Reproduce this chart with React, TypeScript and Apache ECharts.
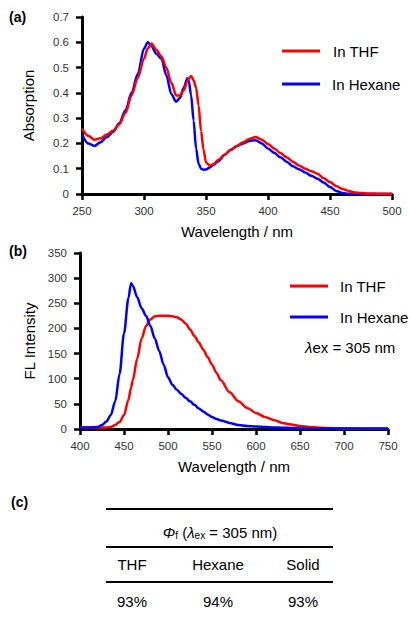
import React, { useEffect, useRef } from "react";
import * as echarts from "echarts";

// ---------- Data ----------
const absWl = [250, 255, 260, 265, 270, 275, 280, 285, 290, 295, 300, 303, 306, 310, 314, 318, 322, 326, 329, 332, 335, 336, 338, 340, 342, 344, 346, 348, 350, 353, 356, 360, 365, 370, 375, 380, 385, 390, 395, 400, 405, 410, 415, 420, 425, 430, 435, 440, 445, 450, 455, 460, 465, 470, 480, 490, 500];
const absTHF = [0.26, 0.23, 0.215, 0.22, 0.235, 0.25, 0.275, 0.32, 0.39, 0.46, 0.535, 0.575, 0.595, 0.57, 0.545, 0.5, 0.44, 0.39, 0.39, 0.41, 0.445, 0.455, 0.467, 0.45, 0.42, 0.35, 0.25, 0.175, 0.125, 0.112, 0.118, 0.135, 0.155, 0.175, 0.19, 0.205, 0.218, 0.225, 0.215, 0.198, 0.18, 0.162, 0.145, 0.128, 0.113, 0.1, 0.09, 0.08, 0.062, 0.047, 0.032, 0.02, 0.012, 0.006, 0.002, 0.001, 0.001];
const absHexane = [0.235, 0.2, 0.19, 0.205, 0.225, 0.245, 0.28, 0.33, 0.4, 0.475, 0.575, 0.6, 0.585, 0.555, 0.535, 0.47, 0.395, 0.365, 0.38, 0.42, 0.458, 0.45, 0.39, 0.29, 0.18, 0.12, 0.1, 0.096, 0.097, 0.105, 0.115, 0.13, 0.155, 0.175, 0.19, 0.2, 0.21, 0.213, 0.2, 0.18, 0.163, 0.145, 0.128, 0.11, 0.098, 0.085, 0.072, 0.06, 0.045, 0.028, 0.012, 0.004, 0.001, 0, 0, 0, 0];

const flWl = [400, 410, 420, 425, 430, 435, 440, 445, 450, 455, 458, 460, 465, 470, 475, 480, 485, 490, 495, 500, 505, 510, 515, 520, 525, 530, 535, 540, 545, 550, 555, 560, 570, 580, 590, 600, 610, 620, 630, 640, 650, 660, 680, 700, 720, 750];
const flTHF = [3, 3, 3, 3, 3, 4, 8, 14, 28, 58, 82, 97, 140, 180, 205, 218, 224, 225, 225, 225, 224, 222, 218, 210, 198, 185, 172, 158, 143, 128, 112, 97, 73, 55, 42, 32, 24, 18, 12, 9, 6, 4, 2, 1, 0.5, 0.5];
const flHexane = [3, 3, 4, 8, 15, 28, 55, 110, 190, 260, 290, 285, 262, 240, 225, 205, 180, 155, 128, 103, 88, 78, 70, 62, 55, 48, 41, 35, 29, 24, 20, 17, 12, 8, 6, 5, 4, 3, 2.5, 2, 2, 1.5, 1, 1, 1, 1];

const seriesNames = ["In THF", "In Hexane"];
const tableHeaders = ["THF", "Hexane", "Solid"];
const tableValues = ["93%", "94%", "93%"];

const RED = "#ff0000";
const BLUE = "#0000ff";
const FONT = "Liberation Sans, Arial, Helvetica, sans-serif";

const zip = (xs: number[], ys: number[]) => xs.map((x, i) => [x, ys[i]]);

export default function App() {
  const ref = useRef<HTMLDivElement>(null);
  useEffect(() => {
    if (!ref.current) return;
    const chart = echarts.init(ref.current, undefined, { renderer: "svg" });

    const axisCommon = {
      axisLine: { show: true, lineStyle: { color: "#000", width: 3 } },
      axisTick: { show: true, length: 6, lineStyle: { color: "#000", width: 2.5 } },
      splitLine: { show: false },
    };
    const tickLabel = { color: "#333", fontSize: 11.5, fontFamily: FONT };
    const nameStyle = { color: "#000", fontSize: 15, fontFamily: FONT };

    const colX = [132, 218, 303];

    const option: any = {
      animation: false,
      backgroundColor: "#fff",
      grid: [
        { left: 82, top: 17, right: 18, height: 177 },
        { left: 80, top: 253, right: 22, height: 176 },
      ],
      xAxis: [
        {
          gridIndex: 0, type: "value", min: 250, max: 500, interval: 50,
          ...axisCommon,
          axisLabel: { ...tickLabel, margin: 11 },
          name: "Wavelength / nm", nameLocation: "middle", nameGap: 30, nameTextStyle: nameStyle,
        },
        {
          gridIndex: 1, type: "value", min: 400, max: 750, interval: 50,
          ...axisCommon,
          axisLabel: { ...tickLabel, margin: 11 },
          name: "Wavelength / nm", nameLocation: "middle", nameGap: 30, nameTextStyle: nameStyle,
        },
      ],
      yAxis: [
        {
          gridIndex: 0, type: "value", min: 0, max: 0.7, interval: 0.1,
          ...axisCommon,
          axisLabel: { ...tickLabel, margin: 13 },
          name: "Absorption", nameLocation: "middle", nameGap: 46, nameTextStyle: nameStyle,
        },
        {
          gridIndex: 1, type: "value", min: 0, max: 350, interval: 50,
          ...axisCommon,
          axisLabel: { ...tickLabel, margin: 13 },
          name: "FL Intensity", nameLocation: "middle", nameGap: 43, nameTextStyle: nameStyle,
        },
      ],
      series: [
        {
          type: "line", name: seriesNames[1], xAxisIndex: 0, yAxisIndex: 0,
          data: zip(absWl, absHexane), showSymbol: false, smooth: 0.3, smoothMonotone: "x",
          lineStyle: { color: BLUE, width: 2.5 }, itemStyle: { color: BLUE },
        },
        {
          type: "line", name: seriesNames[0], xAxisIndex: 0, yAxisIndex: 0,
          data: zip(absWl, absTHF), showSymbol: false, smooth: 0.3, smoothMonotone: "x",
          lineStyle: { color: RED, width: 2.5 }, itemStyle: { color: RED },
        },
        {
          type: "line", name: seriesNames[0] + " FL", xAxisIndex: 1, yAxisIndex: 1,
          data: zip(flWl, flTHF), showSymbol: false, smooth: 0.3, smoothMonotone: "x",
          lineStyle: { color: RED, width: 2.5 }, itemStyle: { color: RED },
        },
        {
          type: "line", name: seriesNames[1] + " FL", xAxisIndex: 1, yAxisIndex: 1,
          data: zip(flWl, flHexane), showSymbol: false, smooth: 0.3, smoothMonotone: "x",
          lineStyle: { color: BLUE, width: 2.5 }, itemStyle: { color: BLUE },
        },
      ],
      graphic: [
        // panel labels
        { type: "text", left: 9, top: 10, style: { text: "(a)", font: `bold 14px ${FONT}`, fill: "#000" } },
        { type: "text", left: 9, top: 244, style: { text: "(b)", font: `bold 14px ${FONT}`, fill: "#000" } },
        { type: "text", left: 11, top: 495, style: { text: "(c)", font: `bold 14px ${FONT}`, fill: "#000" } },
        // legend (a)
        { type: "line", shape: { x1: 282, y1: 51, x2: 320, y2: 51 }, style: { stroke: RED, lineWidth: 3 } },
        { type: "text", x: 333, y: 51, style: { text: seriesNames[0], font: `15px ${FONT}`, fill: "#000", textVerticalAlign: "middle", verticalAlign: "middle" } },
        { type: "line", shape: { x1: 282, y1: 84, x2: 320, y2: 84 }, style: { stroke: BLUE, lineWidth: 3 } },
        { type: "text", x: 332, y: 84, style: { text: seriesNames[1], font: `15px ${FONT}`, fill: "#000", verticalAlign: "middle" } },
        // legend (b)
        { type: "line", shape: { x1: 290, y1: 286, x2: 328, y2: 286 }, style: { stroke: RED, lineWidth: 3 } },
        { type: "text", x: 340, y: 286, style: { text: seriesNames[0], font: `15px ${FONT}`, fill: "#000", verticalAlign: "middle" } },
        { type: "line", shape: { x1: 290, y1: 317, x2: 328, y2: 317 }, style: { stroke: BLUE, lineWidth: 3 } },
        { type: "text", x: 340, y: 317, style: { text: seriesNames[1], font: `15px ${FONT}`, fill: "#000", verticalAlign: "middle" } },
        {
          type: "text", x: 305, y: 347,
          style: {
            text: "{i|λ}{n|ex = 305 nm}",
            verticalAlign: "middle",
            rich: {
              i: { fontStyle: "italic", fontSize: 15, fontFamily: FONT, fill: "#000" },
              n: { fontSize: 15, fontFamily: FONT, fill: "#000" },
            },
          },
        },
        // table (c)
        { type: "line", shape: { x1: 106, y1: 509, x2: 333, y2: 509 }, style: { stroke: "#000", lineWidth: 2 } },
        { type: "line", shape: { x1: 106, y1: 547, x2: 333, y2: 547 }, style: { stroke: "#000", lineWidth: 2 } },
        { type: "line", shape: { x1: 106, y1: 582, x2: 333, y2: 582 }, style: { stroke: "#000", lineWidth: 2 } },
        {
          type: "text", x: 220, y: 531,
          style: {
            text: "{i|Φ}{s|f}{n| (}{i|λ}{s|ex}{n| = 305 nm)}",
            align: "center", verticalAlign: "middle",
            rich: {
              i: { fontStyle: "italic", fontSize: 15, fontFamily: FONT, fill: "#000", lineHeight: 18, verticalAlign: "bottom" },
              n: { fontSize: 15, fontFamily: FONT, fill: "#000", lineHeight: 18, verticalAlign: "bottom" },
              s: { fontSize: 10, fontFamily: FONT, fill: "#000", lineHeight: 14, verticalAlign: "bottom" },
            },
          },
        },
        ...tableHeaders.map((t, i) => ({
          type: "text", x: colX[i], y: 564,
          style: { text: t, font: `15px ${FONT}`, fill: "#000", align: "center", verticalAlign: "middle" },
        })),
        ...tableValues.map((t, i) => ({
          type: "text", x: colX[i], y: 601,
          style: { text: t, font: `15px ${FONT}`, fill: "#000", align: "center", verticalAlign: "middle" },
        })),
      ],
    };
    chart.setOption(option);
    return () => chart.dispose();
  }, []);
  return (
    <div
      ref={ref}
      style={{ position: "absolute", left: 0, top: 0, width: 410, height: 619, background: "#fff" }}
    />
  );
}
